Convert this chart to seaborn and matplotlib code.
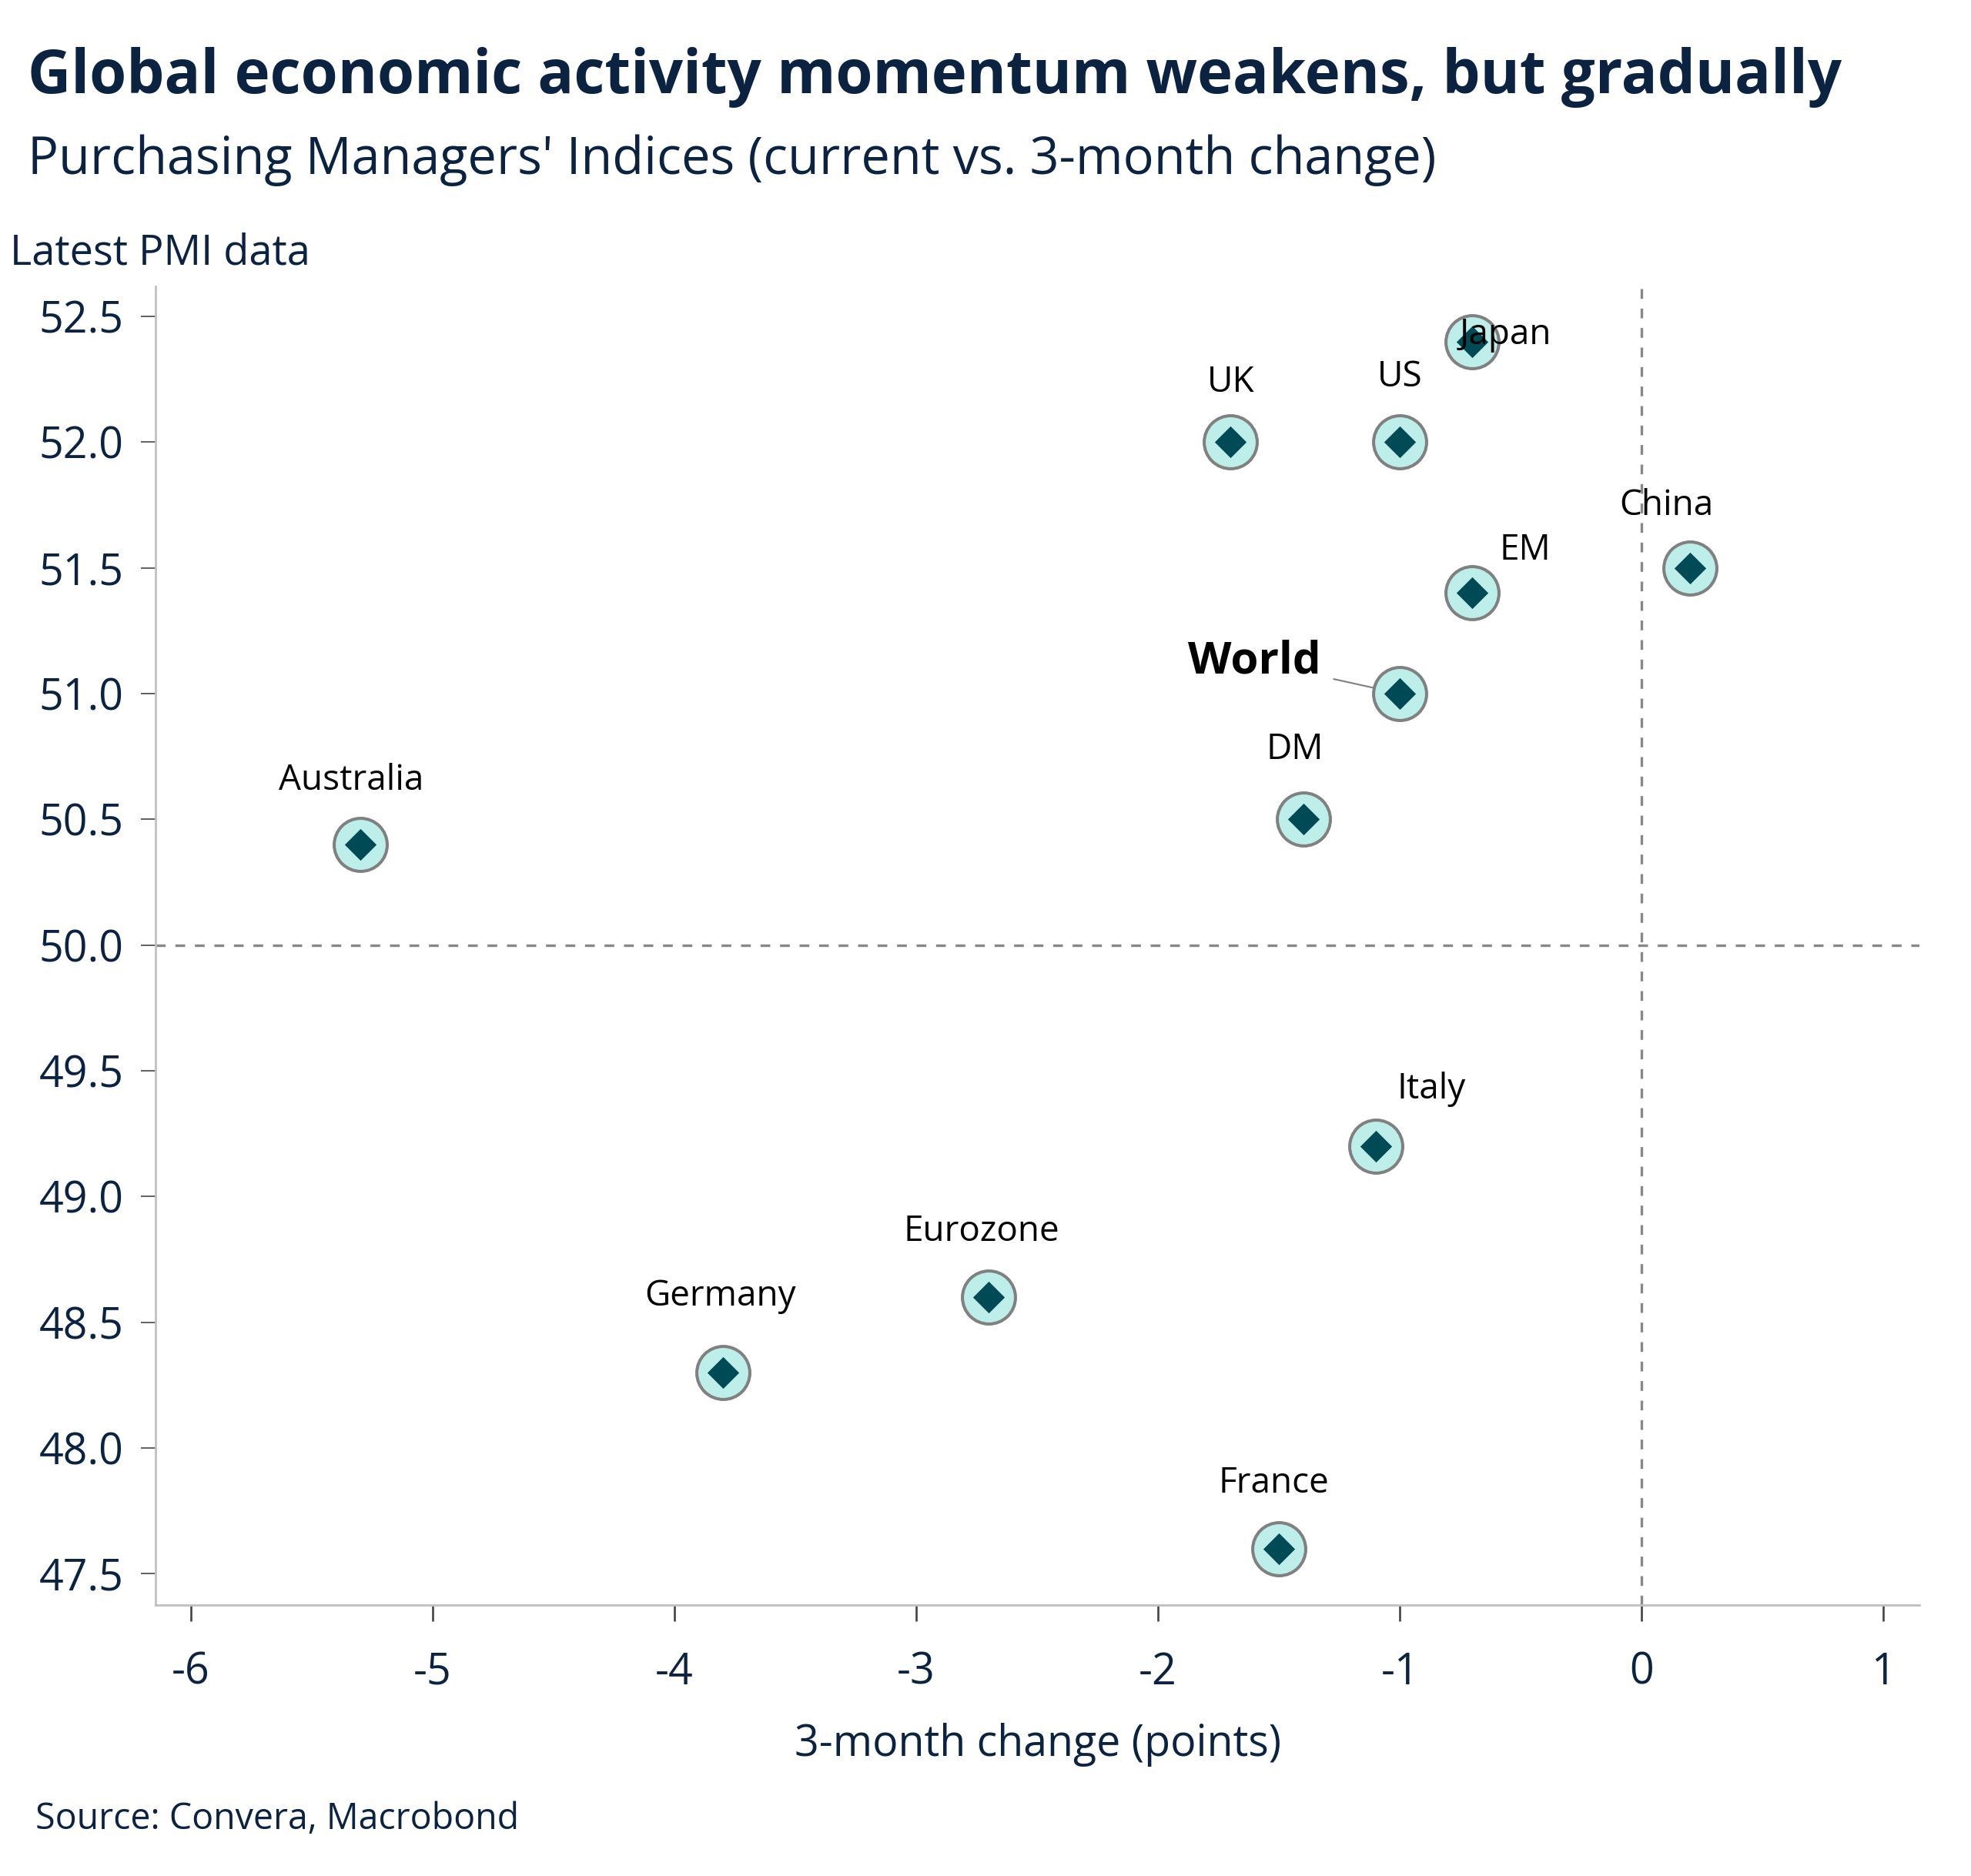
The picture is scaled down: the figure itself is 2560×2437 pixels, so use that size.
import pandas as pd
import matplotlib.pyplot as plt
import seaborn as sns

# PMI data: 3-month change vs latest reading
regions = ["Japan", "UK", "US", "China", "EM", "World", "DM",
           "Australia", "Italy", "Eurozone", "Germany", "France"]
change_3m = [-0.7, -1.7, -1.0, 0.2, -0.7, -1.0, -1.4, -5.3, -1.1, -2.7, -3.8, -1.5]
latest_pmi = [52.4, 52.0, 52.0, 51.5, 51.4, 51.0, 50.5, 50.4, 49.2, 48.6, 48.3, 47.6]

x_ticks = [-6, -5, -4, -3, -2, -1, 0, 1]
y_ticks = [47.5, 48.0, 48.5, 49.0, 49.5, 50.0, 50.5, 51.0, 51.5, 52.0, 52.5]

df = pd.DataFrame({"region": regions, "change": change_3m, "pmi": latest_pmi})

# label offsets in points (dx, dy)
label_offsets = {
    "Japan": (31, 6), "UK": (0, 56), "US": (0, 61), "China": (-22, 58),
    "EM": (49, 40), "DM": (-8, 65), "Australia": (-8, 60), "Italy": (52, 53),
    "Eurozone": (-7, 61), "Germany": (-2, 71), "France": (-5, 61),
}

navy = "#0b2341"

sns.set_theme(style="white")
plt.rcParams["font.family"] = ["Open Sans", "DejaVu Sans"]

fig = plt.figure(figsize=(25.6, 24.37), dpi=100)
ax = fig.add_axes([0.0789, 0.1444, 0.8951, 0.7030])

ax.axhline(50, color="#888888", lw=2.4, ls=(0, (3.8, 3.8)), zorder=1)
ax.axvline(0, color="#888888", lw=2.4, ls=(0, (3.8, 3.8)), zorder=1)

sns.scatterplot(data=df, x="change", y="pmi", marker="o", s=2460,
                color="#bdeee9", edgecolor="#808080", linewidth=2.9, ax=ax, zorder=3)
sns.scatterplot(data=df, x="change", y="pmi", marker="D", s=441,
                color="#004a55", linewidth=0, ax=ax, zorder=4)

for _, row in df.iterrows():
    if row["region"] == "World":
        ax.annotate("World", (row["change"], row["pmi"]), xytext=(-74, 30),
                    textcoords="offset points", ha="right", va="center",
                    fontsize=42, fontweight="bold", color="black", zorder=5,
                    arrowprops=dict(arrowstyle="-", color="#808080", lw=1.5,
                                    shrinkA=10, shrinkB=26))
    else:
        dx, dy = label_offsets[row["region"]]
        ax.annotate(row["region"], (row["change"], row["pmi"]), xytext=(dx, dy),
                    textcoords="offset points", ha="center", va="center",
                    fontsize=33, color="black", zorder=5)

ax.set_xlim(-6.146, 1.15)
ax.set_ylim(47.375, 52.62)
ax.set_xticks(x_ticks)
ax.set_xticklabels([str(t) for t in x_ticks])
ax.set_yticks(y_ticks)
ax.set_yticklabels([f"{t:.1f}" for t in y_ticks])

for side in ["top", "right"]:
    ax.spines[side].set_visible(False)
for side in ["left", "bottom"]:
    ax.spines[side].set_color("#c0c0c0")
    ax.spines[side].set_linewidth(2)

ax.tick_params(axis="x", length=15, width=1.9, color="#444444", pad=28,
               labelsize=40, labelcolor=navy, bottom=True)
ax.tick_params(axis="y", length=14, width=1.2, color="#444444", pad=16,
               labelsize=40, labelcolor=navy, left=True)

ax.set_xlabel("3-month change (points)", fontsize=40, color=navy, labelpad=26)
ax.set_ylabel("")

fig.text(36 / 2560, 1 - 100 / 2437, "Global economic activity momentum weakens, but gradually",
         fontsize=56, fontweight="bold", color=navy, ha="left", va="center")
fig.text(36 / 2560, 1 - 208 / 2437, "Purchasing Managers' Indices (current vs. 3-month change)",
         fontsize=48, color=navy, ha="left", va="center")
fig.text(13 / 2560, 1 - 329 / 2437, "Latest PMI data",
         fontsize=39, color=navy, ha="left", va="center")
fig.text(46 / 2560, 1 - 2363 / 2437, "Source: Convera, Macrobond",
         fontsize=33.5, color=navy, ha="left", va="center")

fig.savefig("out.png", dpi=100)
